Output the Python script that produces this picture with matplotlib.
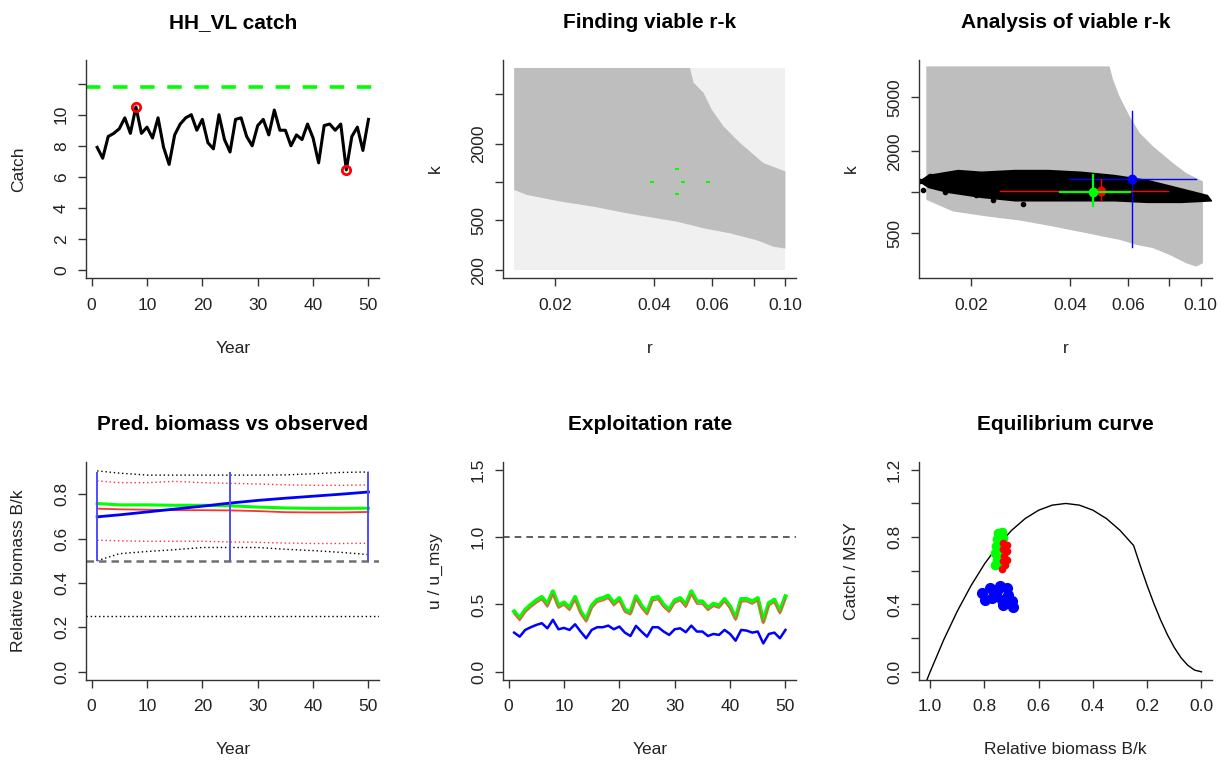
import numpy as np
import matplotlib
matplotlib.use("Agg")
from matplotlib import pyplot as plt

plt.rcParams['font.family'] = ['Liberation Sans', 'DejaVu Sans']

# ---- data ----
years = np.arange(1, 51)
catch = [7.9, 7.2, 8.6, 8.8, 9.1, 9.8, 8.8, 10.5, 8.8, 9.2,
         8.5, 9.8, 7.9, 6.8, 8.7, 9.4, 9.8, 10.0, 9.0, 9.7,
         8.2, 7.8, 10.0, 8.4, 7.6, 9.7, 9.8, 8.6, 8.0, 9.3,
         9.7, 8.7, 10.3, 9.0, 9.0, 8.0, 8.7, 8.4, 9.4, 8.5,
         6.9, 9.3, 9.4, 9.0, 9.4, 6.45, 8.6, 9.2, 7.7, 9.7]
msy_catch = 11.76

# panel 2: prior r-k box and viable region (polygon outlines)
prior_r = [0.015, 0.1, 0.1, 0.015]
prior_k = [200, 200, 8000, 8000]
viable_r = [0.015, 0.0513, 0.0526, 0.0564, 0.0597, 0.0648, 0.0728, 0.0857, 0.1,
            0.1, 0.092, 0.0818, 0.0679, 0.0564, 0.0468, 0.0407, 0.033, 0.0261,
            0.0207, 0.0164, 0.015]
viable_k = [8000, 8000, 6110, 5090, 3750, 2765, 2037, 1413, 1212,
            297, 307, 346, 392, 430, 485, 515, 565, 638,
            700, 790, 866]
green_r = [0.0394, 0.0488, 0.0468, 0.0583, 0.0468]
green_k = [1008, 1008, 805, 1008, 1265]

# panel 3: all viable pairs and the selected cloud
all_r = [0.0146, 0.0528, 0.0541, 0.0566, 0.0608, 0.0652, 0.0716, 0.0824, 0.0904,
         0.1016, 0.1016, 0.097, 0.0904, 0.0804, 0.0716, 0.0637, 0.0566, 0.0504,
         0.0449, 0.0399, 0.0355, 0.0281, 0.0223, 0.0176, 0.0146]
all_k = [8450, 8450, 6745, 5086, 3620, 2731, 2177, 1641, 1384,
         1202, 300, 284, 300, 346, 388, 410, 447, 472,
         500, 529, 560, 620, 664, 723, 880]
sel_r = [0.0148, 0.01825, 0.0215, 0.0272, 0.0343, 0.0433, 0.0547, 0.0691, 0.0873, 0.1052,
         0.1089, 0.0873, 0.0691, 0.0547, 0.0433, 0.0343, 0.0272, 0.0215, 0.017, 0.0148, 0.0138]
sel_k = [1345, 1464, 1422, 1464, 1464, 1422, 1345, 1236, 1073, 957,
         855, 832, 832, 855, 855, 855, 855, 906, 986, 1073, 1200]
stray_r = [0.01396, 0.01422, 0.01497, 0.0155, 0.01663, 0.01763, 0.01891, 0.02076, 0.02333, 0.02562, 0.02878]
stray_k = [1202, 1031, 1308, 1136, 997, 1202, 1104, 958, 880, 932, 823]
# estimates: (r, r_lo, r_hi, k, k_lo, k_hi)
est_blue = (0.0619, 0.0397, 0.097, 1258, 394, 3988)
est_red = (0.0496, 0.0244, 0.0797, 1026, 880, 1258)
est_green = (0.047, 0.0374, 0.0611, 997, 793, 1331)

# panel 4: relative biomass
bk_years = [1, 5, 10, 15, 20, 25, 30, 35, 40, 45, 50]
bk_blue = [0.698, 0.707, 0.720, 0.733, 0.746, 0.760, 0.772, 0.782, 0.791, 0.800, 0.810]
bk_green = [0.758, 0.752, 0.752, 0.750, 0.750, 0.748, 0.742, 0.738, 0.736, 0.736, 0.737]
bk_red = [0.735, 0.732, 0.730, 0.728, 0.728, 0.727, 0.724, 0.719, 0.718, 0.718, 0.720]
bk_red_hi = [0.860, 0.852, 0.852, 0.858, 0.852, 0.849, 0.846, 0.842, 0.840, 0.840, 0.842]
bk_red_lo = [0.593, 0.590, 0.588, 0.588, 0.588, 0.585, 0.583, 0.580, 0.578, 0.578, 0.579]
bk_blk_hi = [0.905, 0.895, 0.886, 0.886, 0.886, 0.886, 0.886, 0.887, 0.892, 0.898, 0.900]
bk_blk_lo = [0.500, 0.532, 0.542, 0.550, 0.560, 0.560, 0.560, 0.552, 0.546, 0.538, 0.528]
prior_years = [1, 25, 50]
prior_lo = [0.5, 0.5, 0.5]
prior_hi = [0.9, 0.9, 0.9]

# panel 5: exploitation rate
u_green = [0.448, 0.398, 0.46, 0.497, 0.53, 0.555, 0.50, 0.597, 0.49, 0.515,
           0.473, 0.555, 0.448, 0.385, 0.49, 0.535, 0.547, 0.565, 0.51, 0.547,
           0.46, 0.44, 0.56, 0.49, 0.44, 0.547, 0.555, 0.497, 0.46, 0.53,
           0.547, 0.497, 0.597, 0.522, 0.522, 0.473, 0.505, 0.49, 0.54, 0.485,
           0.398, 0.54, 0.54, 0.522, 0.547, 0.373, 0.51, 0.535, 0.448, 0.56]
u_red = [0.43, 0.38, 0.44, 0.478, 0.51, 0.535, 0.48, 0.575, 0.472, 0.495,
         0.455, 0.535, 0.43, 0.37, 0.47, 0.515, 0.527, 0.545, 0.49, 0.527,
         0.442, 0.423, 0.54, 0.472, 0.423, 0.527, 0.535, 0.478, 0.442, 0.51,
         0.527, 0.478, 0.575, 0.502, 0.502, 0.455, 0.486, 0.472, 0.52, 0.467,
         0.383, 0.52, 0.52, 0.502, 0.527, 0.358, 0.49, 0.515, 0.43, 0.54]
u_blue = [0.291, 0.261, 0.311, 0.331, 0.348, 0.361, 0.323, 0.386, 0.316, 0.326,
          0.311, 0.353, 0.299, 0.249, 0.311, 0.331, 0.331, 0.343, 0.316, 0.336,
          0.291, 0.266, 0.341, 0.299, 0.261, 0.331, 0.331, 0.299, 0.274, 0.316,
          0.323, 0.294, 0.343, 0.299, 0.299, 0.266, 0.281, 0.274, 0.311, 0.281,
          0.231, 0.311, 0.306, 0.291, 0.299, 0.211, 0.281, 0.291, 0.249, 0.311]

# panel 6: equilibrium curve and yearly points
eq_b = [0.0, 0.025, 0.05, 0.075, 0.10, 0.125, 0.15, 0.175, 0.20, 0.225, 0.25,
        0.30, 0.35, 0.40, 0.45, 0.50, 0.55, 0.60, 0.65, 0.70, 0.75, 0.80,
        0.85, 0.90, 0.95, 1.00, 1.02]
eq_y = [0.0, 0.010, 0.038, 0.083, 0.144, 0.219, 0.306, 0.404, 0.512, 0.628, 0.75,
        0.84, 0.91, 0.96, 0.99, 1.0, 0.99, 0.96, 0.91, 0.84, 0.75, 0.64,
        0.51, 0.36, 0.19, 0.0, -0.08]
pt_blue_b = [0.810, 0.798, 0.779, 0.773, 0.755, 0.743, 0.736, 0.718, 0.712, 0.730, 0.700, 0.694, 0.761]
pt_blue_y = [0.468, 0.428, 0.498, 0.438, 0.478, 0.507, 0.428, 0.498, 0.458, 0.398, 0.418, 0.384, 0.448]
pt_green_b = [0.749, 0.736, 0.755, 0.730, 0.757, 0.743, 0.761, 0.745, 0.755, 0.740, 0.733, 0.761]
pt_green_y = [0.826, 0.830, 0.786, 0.796, 0.746, 0.756, 0.707, 0.707, 0.667, 0.647, 0.687, 0.637]
pt_red_b = [0.730, 0.718, 0.733, 0.718, 0.728, 0.716, 0.733, 0.736, 0.724]
pt_red_y = [0.767, 0.756, 0.727, 0.716, 0.687, 0.667, 0.657, 0.611, 0.637]

# ---- layout ----
W, H = 1224, 762
fig = plt.figure(figsize=(W / 100, H / 100), dpi=100)
col_left = [86.3, 503.3, 919.3]
row_top = [60, 461.7]
pw, ph = 293, 218.2
AX = '#333333'


def make_ax(row, col):
    l = col_left[col] / W
    b = 1 - (row_top[row] + ph) / H
    ax = fig.add_axes([l, b, pw / W, ph / H])
    for s in ['top', 'right']:
        ax.spines[s].set_visible(False)
    for s in ['left', 'bottom']:
        ax.spines[s].set_color(AX)
        ax.spines[s].set_linewidth(1.0)
    ax.tick_params(length=6, width=1, color=AX, labelsize=12.5, labelcolor='#222222')
    ax.tick_params(axis='x', pad=8)
    ax.tick_params(axis='y', pad=6.5)
    return ax


def finish(ax, title, xlabel, ylabel):
    ax.text(0.5, 1 + 31.7 / ph, title, transform=ax.transAxes, ha='center',
            va='baseline', fontsize=15, fontweight='bold')
    ax.set_xlabel(xlabel, fontsize=12.5, color='#222222')
    ax.set_ylabel(ylabel, fontsize=12.5, color='#222222')
    ax.xaxis.set_label_coords(0.5, -70 / ph)
    ax.xaxis.label.set_va('center')
    ax.yaxis.set_label_coords(-68 / pw, 0.5)
    ax.yaxis.label.set_va('center')
    plt.setp(ax.get_yticklabels(), rotation=90, va='center', ha='right')
    ax.minorticks_off()


def set_ticks(ax, axis, ticks, labels):
    if axis == 'x':
        ax.set_xticks(ticks)
        ax.set_xticklabels(labels)
    else:
        ax.set_yticks(ticks)
        ax.set_yticklabels(labels)


year_ticks = [0, 10, 20, 30, 40, 50]
year_lim = (-0.96, 51.96)

# 1. catch
ax = make_ax(0, 0)
ax.axhline(msy_catch, color='#00ff00', lw=2.6, dashes=(4, 3.5))
ax.plot(years, catch, color='black', lw=2.2)
imax, imin = int(np.argmax(catch)), int(np.argmin(catch))
ax.plot([years[imax], years[imin]], [catch[imax], catch[imin]], 'o', ms=6,
        mfc='none', mec='red', mew=2)
ax.set_xlim(year_lim)
ax.set_ylim(-0.52, 13.52)
set_ticks(ax, 'x', year_ticks, [str(t) for t in year_ticks])
set_ticks(ax, 'y', [0, 2, 4, 6, 8, 10, 12], ['0', '2', '4', '6', '8', '10', ''])
finish(ax, 'HH_VL catch', 'Year', 'Catch')

# 2. finding viable r-k
ax = make_ax(0, 1)
ax.set_xscale('log')
ax.set_yscale('log')
ax.fill(prior_r, prior_k, color='#f0f0f0', lw=0)
ax.fill(viable_r, viable_k, color='#bebebe', lw=0)
ax.plot(green_r, green_k, '_', color='#00ff00', ms=3.5, mew=1.5)
ax.set_xlim(0.0139, 0.1079)
ax.set_ylim(173, 9250)
set_ticks(ax, 'x', [0.02, 0.04, 0.06, 0.08, 0.1], ['0.02', '0.04', '0.06', '', '0.10'])
set_ticks(ax, 'y', [200, 500, 1000, 2000, 5000], ['200', '500', '', '2000', ''])
finish(ax, 'Finding viable r-k', 'r', 'k')

# 3. analysis of viable r-k
ax = make_ax(0, 2)
ax.set_xscale('log')
ax.set_yscale('log')
ax.fill(all_r, all_k, color='#bebebe', lw=0)
ax.fill(sel_r, sel_k, color='black', lw=0)
ax.plot(stray_r, stray_k, 'o', color='black', ms=3)
for est, col, lw in [(est_blue, '#0000ff', 1.0), (est_red, '#ff0000', 1.0), (est_green, '#00ff00', 1.6)]:
    r, rlo, rhi, k, klo, khi = est
    ax.plot([rlo, rhi], [k, k], color=col, lw=lw)
    ax.plot([r, r], [klo, khi], color=col, lw=lw)
    ax.plot([r], [k], 'o', color=col, ms=6)
ax.set_xlim(0.0139, 0.1085)
ax.set_ylim(233, 9420)
set_ticks(ax, 'x', [0.02, 0.04, 0.06, 0.08, 0.1], ['0.02', '0.04', '0.06', '', '0.10'])
set_ticks(ax, 'y', [500, 1000, 2000, 5000], ['500', '', '2000', '5000'])
finish(ax, 'Analysis of viable r-k', 'r', 'k')

# 4. predicted biomass
ax = make_ax(1, 0)
ax.axhline(0.5, color='#707070', lw=1.8, dashes=(3, 2))
ax.axhline(0.25, color='black', lw=1.0, dashes=(1, 2))
ax.plot(bk_years, bk_blk_hi, color='black', lw=1.0, dashes=(1, 2))
ax.plot(bk_years, bk_blk_lo, color='black', lw=1.0, dashes=(1, 2))
ax.plot(bk_years, bk_red_hi, color='#ff3030', lw=1.0, dashes=(1, 2))
ax.plot(bk_years, bk_red_lo, color='#ff3030', lw=1.0, dashes=(1, 2))
ax.plot(bk_years, bk_red, color='#ff3030', lw=1.3)
ax.plot(bk_years, bk_green, color='#00ff00', lw=2.2)
ax.plot(bk_years, bk_blue, color='#0000ff', lw=2.0)
ax.vlines(prior_years, prior_lo, prior_hi, color='#4d4dff', lw=1.4)
ax.set_xlim(year_lim)
ax.set_ylim(-0.0364, 0.9464)
set_ticks(ax, 'x', year_ticks, [str(t) for t in year_ticks])
set_ticks(ax, 'y', [0, 0.2, 0.4, 0.6, 0.8], ['0.0', '0.2', '0.4', '0.6', '0.8'])
finish(ax, 'Pred. biomass vs observed', 'Year', 'Relative biomass B/k')

# 5. exploitation rate
ax = make_ax(1, 1)
ax.axhline(1.0, color='#444444', lw=1.2, dashes=(4, 3))
ax.plot(years, u_green, color='#00ff00', lw=3.0)
ax.plot(years, u_red, color='#ff5050', lw=1.0)
ax.plot(years, u_blue, color='#0000ff', lw=1.8)
ax.set_xlim(year_lim)
ax.set_ylim(-0.06, 1.56)
set_ticks(ax, 'x', year_ticks, [str(t) for t in year_ticks])
set_ticks(ax, 'y', [0, 0.5, 1.0, 1.5], ['0.0', '0.5', '1.0', '1.5'])
finish(ax, 'Exploitation rate', 'Year', 'u / u_msy')

# 6. equilibrium curve
ax = make_ax(1, 2)
ax.plot(eq_b, eq_y, color='black', lw=1.0)
ax.plot(pt_blue_b, pt_blue_y, 'o', color='#0000ff', ms=7)
ax.plot(pt_green_b, pt_green_y, 'o', color='#00ff00', ms=6)
ax.plot(pt_red_b, pt_red_y, 'o', color='#ff0000', ms=4.5)
ax.set_xlim(1.04, -0.04)
ax.set_ylim(-0.048, 1.248)
set_ticks(ax, 'x', [1.0, 0.8, 0.6, 0.4, 0.2, 0.0], ['1.0', '0.8', '0.6', '0.4', '0.2', '0.0'])
set_ticks(ax, 'y', [0, 0.2, 0.4, 0.6, 0.8, 1.0, 1.2], ['0.0', '', '0.4', '', '0.8', '', '1.2'])
finish(ax, 'Equilibrium curve', 'Relative biomass B/k', 'Catch / MSY')

fig.savefig('out.png', dpi=100)
